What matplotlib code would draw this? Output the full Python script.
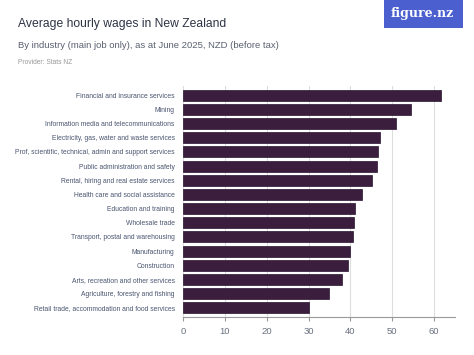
import matplotlib.pyplot as plt
from matplotlib.patches import Rectangle

industries = [
    "Financial and insurance services",
    "Mining",
    "Information media and telecommunications",
    "Electricity, gas, water and waste services",
    "Prof, scientific, technical, admin and support services",
    "Public administration and safety",
    "Rental, hiring and real estate services",
    "Health care and social assistance",
    "Education and training",
    "Wholesale trade",
    "Transport, postal and warehousing",
    "Manufacturing",
    "Construction",
    "Arts, recreation and other services",
    "Agriculture, forestry and fishing",
    "Retail trade, accommodation and food services",
]
wages = [61.7, 54.6, 50.8, 47.1, 46.7, 46.4, 45.2, 42.8,
         41.0, 40.9, 40.7, 39.8, 39.4, 37.9, 35.0, 30.2]
xticks = [0, 10, 20, 30, 40, 50, 60]

plt.rcParams["font.family"] = ["Liberation Sans", "DejaVu Sans"]

W, H = 474, 355
fig = plt.figure(figsize=(W / 100, H / 100), dpi=100)
fig.patch.set_facecolor("white")

# plot area in pixels: x 183..455, y 86..317
ax = fig.add_axes([183 / W, 1 - 317 / H, (455 - 183) / W, (317 - 86) / H])

ypos = list(range(len(industries)))
ax.barh(ypos, wages, height=0.78, color="#3b1d3e", edgecolor="#2a1230", linewidth=0.5, zorder=3)
ax.set_ylim(len(industries) - 0.35, -0.65)
ax.set_xlim(0, 65)
ax.set_yticks(ypos)
ax.set_yticklabels(industries, fontsize=4.9, color="#4a5570")
ax.set_xticks(xticks)
ax.set_xticklabels([str(t) for t in xticks], fontsize=6.8, color="#6a7080")
ax.tick_params(axis="y", length=0, pad=6)
ax.tick_params(axis="x", length=3, color="#999999", width=0.8, pad=4)
ax.grid(axis="x", color="#dddddd", linewidth=0.8, zorder=0)
for s in ["top", "right", "left"]:
    ax.spines[s].set_visible(False)
ax.spines["bottom"].set_color("#999999")
ax.spines["bottom"].set_linewidth(0.8)

fig.text(18 / W, 1 - 24 / H, "Average hourly wages in New Zealand", fontsize=8.7,
         color="#2e3445", va="center", ha="left", fontweight="medium")
fig.text(18 / W, 1 - 46 / H, "By industry (main job only), as at June 2025, NZD (before tax)",
         fontsize=6.8, color="#5a6070", va="center", ha="left")
fig.text(18 / W, 1 - 63 / H, "Provider: Stats NZ", fontsize=4.8, color="#999999",
         va="center", ha="left")

fig.patches.append(Rectangle((384 / W, 1 - 28 / H), (463 - 384) / W, 28 / H,
                             transform=fig.transFigure, facecolor="#4c5fcf",
                             edgecolor="none"))
fig.text(422 / W, 1 - 14 / H, "figure.nz", fontsize=9, color="white", family="serif",
         fontweight="bold", va="center", ha="center")

fig.savefig("out.png", dpi=100)
